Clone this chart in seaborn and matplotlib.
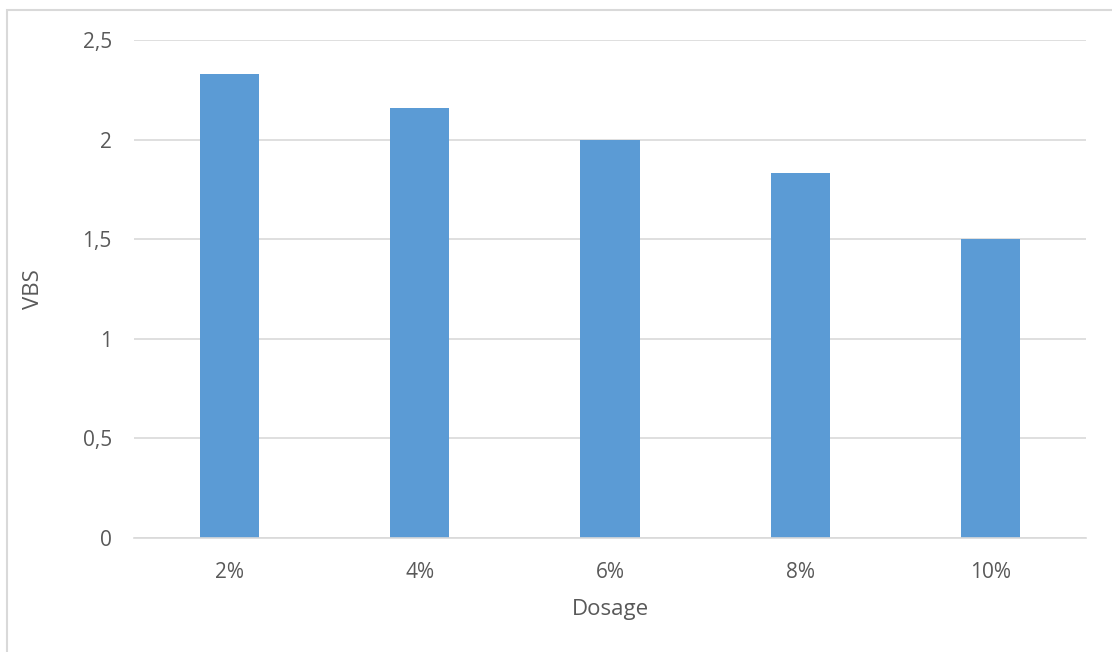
import matplotlib
matplotlib.use("Agg")
import matplotlib.pyplot as plt
import seaborn as sns
import pandas as pd
from matplotlib.patches import Rectangle

categories = ["2%", "4%", "6%", "8%", "10%"]
values = [2.33, 2.16, 2.0, 1.83, 1.5]
yticks = [0, 0.5, 1, 1.5, 2, 2.5]
ytick_labels = ["0", "0,5", "1", "1,5", "2", "2,5"]

sns.set_theme(style="white")
plt.rcParams["font.family"] = ["Open Sans", "DejaVu Sans"]

W, H = 1112, 652
fig = plt.figure(figsize=(W / 100, H / 100), dpi=100)
ax = fig.add_axes([134 / W, 1 - 538 / H, (1086 - 134) / W, (538 - 40) / H])

df = pd.DataFrame({"Dosage": categories, "VBS": values})
sns.barplot(data=df, x="Dosage", y="VBS", color="#5B9BD5", saturation=1,
            width=0.31, ax=ax, zorder=3, linewidth=0)

ax.set_ylim(0, 2.5)
ax.set_xlim(-0.5, len(categories) - 0.5)
ax.set_yticks(yticks)
ax.set_yticklabels(ytick_labels)
ax.yaxis.grid(True, color="#D9D9D9", linewidth=1.2, zorder=0)
ax.set_axisbelow(True)
for s in ["top", "right", "left"]:
    ax.spines[s].set_visible(False)
ax.spines["bottom"].set_color("#D9D9D9")
ax.spines["bottom"].set_linewidth(1.2)
ax.spines["bottom"].set_zorder(4)
ax.tick_params(axis="both", length=0, labelsize=15, labelcolor="#595959")
ax.tick_params(axis="y", pad=16)
ax.tick_params(axis="x", pad=17)
ax.set_xlabel("Dosage", fontsize=16, color="#595959", labelpad=12)
ax.set_ylabel("VBS", fontsize=16, color="#595959", labelpad=28)

# outer chart border (clipped at right/bottom like the reference)
fig.patches.append(Rectangle((7 / W, -0.1), 1.2, 1 - 10 / H + 0.1,
                             transform=fig.transFigure, fill=False,
                             edgecolor="#D9D9D9", linewidth=1.5))

fig.savefig("out.png", dpi=100)
